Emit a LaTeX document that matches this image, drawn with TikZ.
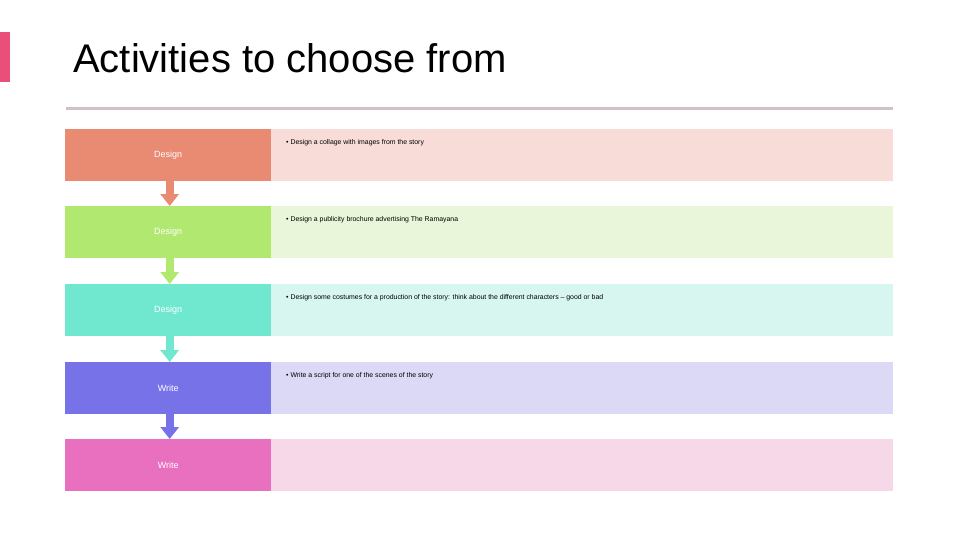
\documentclass[tikz,border=0pt]{standalone}
\usepackage{fontspec}
\setmainfont{Liberation Sans}
\usetikzlibrary{arrows.meta}
\definecolor{accent}{HTML}{E8507A}
\definecolor{rulec}{HTML}{D3BFC6}
\definecolor{cA}{HTML}{E98A73}\definecolor{lA}{HTML}{F7DCD7}
\definecolor{cB}{HTML}{B0E870}\definecolor{lB}{HTML}{E9F6DA}
\definecolor{cC}{HTML}{70E8D0}\definecolor{lC}{HTML}{D8F6F0}
\definecolor{cD}{HTML}{7872E8}\definecolor{lD}{HTML}{DCD9F6}
\definecolor{cE}{HTML}{E870BE}\definecolor{lE}{HTML}{F7D8E9}
\begin{document}
\begin{tikzpicture}[x=1pt,y=-1pt,
  leftbox/.style={minimum width=206pt,minimum height=52pt,inner sep=0pt,anchor=north west,text=white,font=\fontsize{9}{10}\selectfont},
  rightbox/.style={minimum width=622pt,minimum height=52pt,inner sep=0pt,anchor=north west},
  itemtext/.style={anchor=west,inner sep=0pt,font=\fontsize{6.9}{8}\selectfont},
  flowarrow/.style={line width=8pt,-{Triangle[width=18pt,length=12pt]}}]
\useasboundingbox (0,0) rectangle (960,540);
\fill[white] (0,0) rectangle (960,540);
\fill[accent] (0,32) rectangle (10,82);
\node[anchor=base west,inner sep=0pt,font=\fontsize{40}{44}\selectfont] (title) at (73,73) {Activities to choose from};
\draw[rulec,line width=3pt] (66,109) -- (893,109);
% rows
\node[leftbox,fill=cA] (a) at (65,129) {Design};
\node[rightbox,fill=lA] (ra) at (271,129) {};
\node[leftbox,fill=cB] (b) at (65,206) {Design};
\node[rightbox,fill=lB] (rb) at (271,206) {};
\node[leftbox,fill=cC] (c) at (65,284) {Design};
\node[rightbox,fill=lC] (rc) at (271,284) {};
\node[leftbox,fill=cD] (d) at (65,362) {Write};
\node[rightbox,fill=lD] (rd) at (271,362) {};
\node[leftbox,fill=cE] (e) at (65,439) {Write};
\node[rightbox,fill=lE] (re) at (271,439) {};
% texts
\node[itemtext] (ta) at (286,143) {• Design a collage with images from the story};
\node[itemtext] (tb) at (286,220) {• Design a publicity brochure advertising The Ramayana};
\node[itemtext] (tc) at (286,298) {• Design some costumes for a production of the story: think about the different characters – good or bad};
\node[itemtext] (td) at (286,376) {• Write a script for one of the scenes of the story};
% arrows
\draw[flowarrow,cA] ([xshift=1.5pt]a.south) -- ([xshift=1.5pt]b.north);
\draw[flowarrow,cB] ([xshift=1.5pt]b.south) -- ([xshift=1.5pt]c.north);
\draw[flowarrow,cC] ([xshift=1.5pt]c.south) -- ([xshift=1.5pt]d.north);
\draw[flowarrow,cD] ([xshift=1.5pt]d.south) -- ([xshift=1.5pt]e.north);
\end{tikzpicture}
\end{document}
